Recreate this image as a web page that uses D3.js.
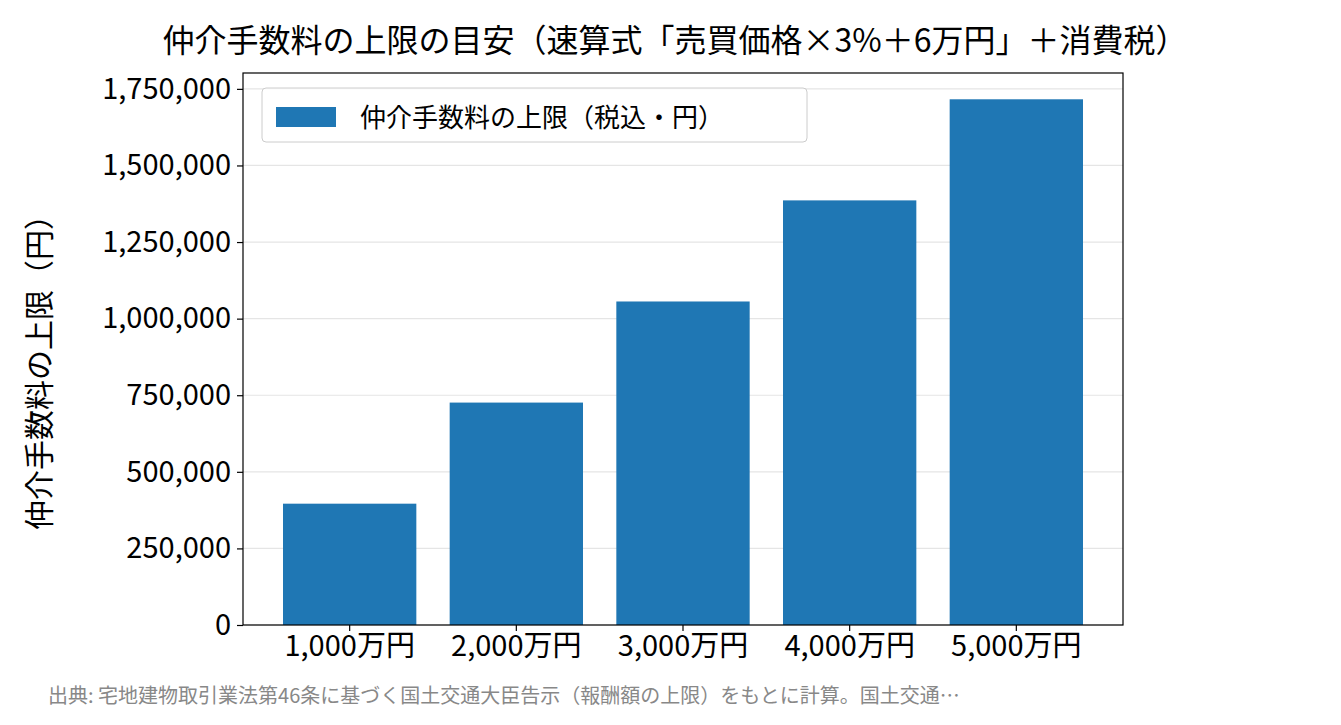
<!DOCTYPE html>
<html><head><meta charset="utf-8">
<script src="https://cdn.jsdelivr.net/npm/d3@7"></script>
<style>body{margin:0;background:#fff}text{font-family:"Noto Sans CJK JP","Noto Sans",sans-serif}</style>
</head><body><svg id="c" width="1341" height="725"></svg>
<script>
const categories=["1,000万円","2,000万円","3,000万円","4,000万円","5,000万円"];
const values=[396000,726000,1056000,1386000,1716000];
const yTicks=[0,250000,500000,750000,1000000,1250000,1500000,1750000];
const seriesName="仲介手数料の上限（税込・円）";
const title="仲介手数料の上限の目安（速算式「売買価格×3%＋6万円」＋消費税）";
const yLabel="仲介手数料の上限（円）";
const source="出典: 宅地建物取引業法第46条に基づく国土交通大臣告示（報酬額の上限）をもとに計算。国土交通…";

const svg=d3.select("#c");
const L=243,R=1123,T=73,B=625;
const x=d3.scaleBand().domain(categories).range([L,R]).paddingInner(0.2).paddingOuter(0.24);
const y=d3.scaleLinear().domain([0,1716000*1.05]).range([B,T]);
svg.append("g").selectAll("line").data(yTicks).join("line")
 .attr("x1",L).attr("x2",R).attr("y1",d=>y(d)).attr("y2",d=>y(d)).attr("stroke","#e5e5e5").attr("stroke-width",1.2);
svg.append("g").selectAll("rect").data(values).join("rect")
 .attr("x",(d,i)=>x(categories[i])).attr("width",x.bandwidth()).attr("y",d=>y(d)).attr("height",d=>B-y(d)).attr("fill","#1f77b4");
const ya=svg.append("g").attr("transform",`translate(${L},0)`).call(d3.axisLeft(y).tickValues(yTicks).tickFormat(d3.format(",")).tickSize(6).tickPadding(6));
const xa=svg.append("g").attr("transform",`translate(0,${B})`).call(d3.axisBottom(x).tickSize(6).tickPadding(4));
[ya,xa].forEach(a=>{a.selectAll("text").attr("font-size",29).attr("fill","#000");a.select(".domain").remove();a.selectAll("line").attr("stroke","#000").attr("stroke-width",1.2);});
svg.append("rect").attr("x",L).attr("y",T).attr("width",R-L).attr("height",B-T).attr("fill","none").attr("stroke","#000").attr("stroke-width",1.2);
svg.append("text").attr("x",675).attr("y",52).attr("text-anchor","middle").attr("font-size",32).text(title);
svg.append("text").attr("transform","translate(50,365) rotate(-90)").attr("text-anchor","middle").attr("font-size",30).text(yLabel);
const lg=svg.append("g");
lg.append("rect").attr("x",262).attr("y",88).attr("width",545).attr("height",54).attr("rx",4).attr("fill","#fff").attr("fill-opacity",0.8).attr("stroke","#ccc");
lg.append("rect").attr("x",276).attr("y",107).attr("width",60).attr("height",20).attr("fill","#1f77b4");
lg.append("text").attr("x",360).attr("y",127).attr("font-size",26).text(seriesName);
svg.append("text").attr("x",48).attr("y",703).attr("font-size",20).attr("fill","#888").text(source);
</script></body></html>
